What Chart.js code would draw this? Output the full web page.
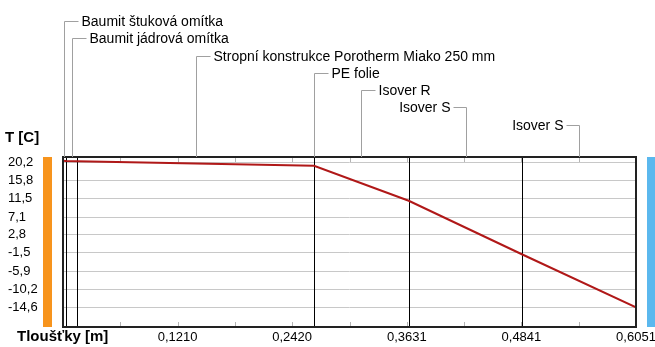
<!DOCTYPE html>
<html>
<head>
<meta charset="utf-8">
<script src="https://cdn.jsdelivr.net/npm/chart.js@4/dist/chart.umd.min.js"></script>
<style>
  html, body { margin: 0; padding: 0; background: #fff; }
  #wrap { width: 655px; height: 347px; position: relative; }
</style>
</head>
<body>
<div id="wrap"><canvas id="c" width="655" height="347"></canvas></div>
<script>
// Skladba konstrukce (od interiéru k exteriéru)
const layerNames = [
  'Baumit štuková omítka',
  'Baumit jádrová omítka',
  'Stropní konstrukce Porotherm Miako 250 mm',
  'PE folie',
  'Isover R',
  'Isover S',
  'Isover S'
];
const layerThickness = [0.003, 0.012, 0.25, 0.0001, 0.1, 0.12, 0.12];

// Průběh teploty v konstrukci
const profileDepth = [0, 0.003, 0.015, 0.265, 0.2651, 0.3651, 0.4851, 0.6051];
const profileTemp  = [20.6, 20.55, 20.5, 19.4, 19.4, 11.0, -1.9, -14.6];

// Popisky os
const tempTicks = [20.2, 15.8, 11.5, 7.1, 2.8, -1.5, -5.9, -10.2, -14.6];
const tempTickLabels = ['20,2', '15,8', '11,5', '7,1', '2,8', '-1,5', '-5,9', '-10,2', '-14,6'];
const depthTicks = [0, 0.0605, 0.1210, 0.1815, 0.2420, 0.3026, 0.3631, 0.4236, 0.4841, 0.5446, 0.6051];
const depthTickLabels = ['', '', '0,1210', '', '0,2420', '', '0,3631', '', '0,4841', '', '0,6051'];

// Umístění popisků vrstev: řádek (y) a strana odbočky
const labelLayout = [
  { y: 21, side: 'right' },
  { y: 38, side: 'right' },
  { y: 56, side: 'right' },
  { y: 73, side: 'right' },
  { y: 90, side: 'right' },
  { y: 107, side: 'left' },
  { y: 125, side: 'left' }
];

const FONT = '"Liberation Sans", Arial, sans-serif';

// hranice vrstev
const boundaries = [0];
layerThickness.forEach(t => boundaries.push(+(boundaries[boundaries.length - 1] + t).toFixed(4)));

const decor = {
  id: 'decor',
  beforeDraw(chart) {
    const ctx = chart.ctx;
    ctx.save();
    ctx.fillStyle = '#fff';
    ctx.fillRect(0, 0, chart.width, chart.height);
    ctx.restore();
  },
  beforeDatasetsDraw(chart) {
    const { ctx, chartArea: a, scales: { x } } = chart;
    ctx.save();
    // krátké značky dílků uvnitř grafu
    ctx.strokeStyle = '#b4b4b4';
    ctx.lineWidth = 1;
    depthTicks.forEach(v => {
      const px = Math.round(x.getPixelForValue(v)) + 0.5;
      ctx.beginPath();
      ctx.moveTo(px, a.bottom); ctx.lineTo(px, a.bottom - 5);
      ctx.moveTo(px, a.top); ctx.lineTo(px, a.top + 5);
      ctx.stroke();
    });
    // rozhraní vrstev
    ctx.strokeStyle = '#000';
    ctx.lineWidth = 1;
    boundaries.slice(1, -1).forEach(v => {
      const px = Math.round(x.getPixelForValue(v)) + 0.5;
      ctx.beginPath();
      ctx.moveTo(px, a.top); ctx.lineTo(px, a.bottom);
      ctx.stroke();
    });
    ctx.restore();
  },
  afterDatasetsDraw(chart) {
    const { ctx, chartArea: a, scales: { x } } = chart;
    ctx.save();
    // rámeček grafu
    ctx.strokeStyle = '#222';
    ctx.lineWidth = 2;
    ctx.strokeRect(a.left, a.top, a.right - a.left, a.bottom - a.top);

    // barevné pruhy prostředí
    ctx.fillStyle = '#f7941d';
    ctx.fillRect(43, a.top, 9, a.bottom - a.top);
    ctx.fillStyle = '#5bb8ee';
    ctx.fillRect(647, a.top, 8, a.bottom - a.top);

    // popisky os
    ctx.fillStyle = '#000';
    ctx.font = 'bold 15px ' + FONT;
    ctx.textBaseline = 'middle';
    ctx.textAlign = 'left';
    ctx.fillText('T [C]', 5, 138);
    ctx.fillText('Tloušťky [m]', 17, 337);

    // popisky vrstev s odbočkami
    ctx.font = '14px ' + FONT;
    ctx.strokeStyle = '#a0a0a0';
    ctx.lineWidth = 1;
    layerNames.forEach((name, i) => {
      const mid = (boundaries[i] + boundaries[i + 1]) / 2;
      const px = Math.round(x.getPixelForValue(mid)) + 0.5;
      const L = labelLayout[i];
      const ly = L.y + 0.5;
      ctx.beginPath();
      ctx.moveTo(px, a.top);
      ctx.lineTo(px, ly);
      if (L.side === 'right') {
        ctx.lineTo(px + 14, ly);
        ctx.stroke();
        ctx.textAlign = 'left';
        ctx.fillText(name, px + 17, L.y + 1);
      } else {
        ctx.lineTo(px - 13, ly);
        ctx.stroke();
        ctx.textAlign = 'right';
        ctx.fillText(name, px - 16, L.y + 1);
      }
    });
    ctx.restore();
  }
};

new Chart(document.getElementById('c'), {
  type: 'line',
  data: {
    datasets: [{
      data: profileDepth.map((d, i) => ({ x: d, y: profileTemp[i] })),
      borderColor: '#b01818',
      borderWidth: 2,
      pointRadius: 0,
      tension: 0,
      fill: false
    }]
  },
  options: {
    responsive: false,
    devicePixelRatio: 1,
    animation: false,
    layout: { padding: { left: 8, right: 19, top: 157, bottom: 0 } },
    plugins: { legend: { display: false }, tooltip: { enabled: false }, title: { display: false } },
    scales: {
      x: {
        type: 'linear',
        min: 0,
        max: 0.6051,
        afterBuildTicks: s => { s.ticks = depthTicks.map(v => ({ value: v })); },
        afterFit: s => { s.height = 20; s.paddingLeft = 0; s.paddingRight = 0; },
        ticks: {
          autoSkip: false,
          maxRotation: 0,
          padding: 3,
          color: '#000',
          font: { family: FONT, size: 13 },
          callback: (v, i) => depthTickLabels[i]
        },
        grid: { display: false, drawTicks: false },
        border: { display: false }
      },
      y: {
        type: 'linear',
        min: -19.3,
        max: 21.5,
        afterBuildTicks: s => { s.ticks = tempTicks.map(v => ({ value: v })); },
        afterFit: s => { s.width = 55; s.paddingTop = 0; s.paddingBottom = 0; },
        ticks: {
          autoSkip: false,
          crossAlign: 'far',
          color: '#000',
          font: { family: FONT, size: 13 },
          callback: (v, i) => tempTickLabels[i]
        },
        grid: { color: '#c8c8c8', lineWidth: 1, drawTicks: false },
        border: { display: false }
      }
    }
  },
  plugins: [decor]
});
</script>
</body>
</html>
